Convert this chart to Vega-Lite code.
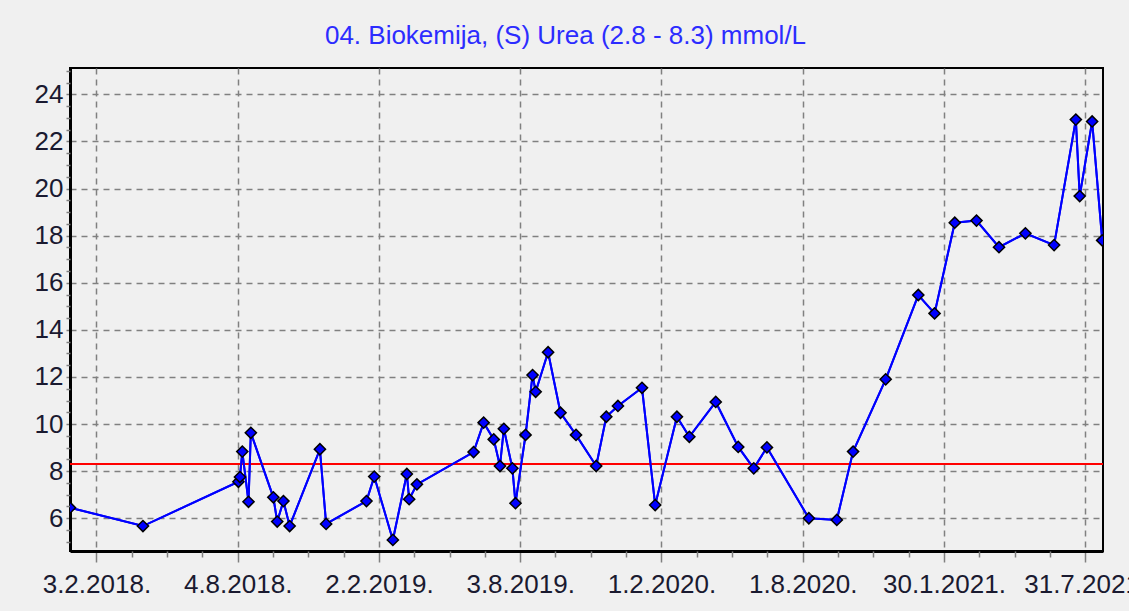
{
  "$schema": "https://vega.github.io/schema/vega-lite/v6.json",
  "width": 1033,
  "height": 483,
  "autosize": {"type": "none"},
  "padding": {"left": 70, "top": 68, "right": 26, "bottom": 60},
  "background": "#f0f0f0",
  "config": {
    "view": {"stroke": "#000000", "strokeWidth": 2, "fill": "#f0f0f0"},
    "font": "Liberation Sans"
  },
  "title": {
    "text": "04. Biokemija, (S) Urea (2.8 - 8.3) mmol/L",
    "font": "Liberation Sans",
    "fontSize": 26,
    "fontWeight": "normal",
    "color": "#2c2cff",
    "anchor": "middle",
    "baseline": "alphabetic",
    "offset": -2,
    "dx": -21
  },
  "resolve": {"axis": {"x": "independent", "y": "independent"}},
  "data": {
    "values": [
      {"date": "2017-12-31", "urea": 6.45},
      {"date": "2018-04-04", "urea": 5.67},
      {"date": "2018-08-05", "urea": 7.55},
      {"date": "2018-08-07", "urea": 7.75},
      {"date": "2018-08-10", "urea": 8.83},
      {"date": "2018-08-18", "urea": 6.70},
      {"date": "2018-08-21", "urea": 9.63},
      {"date": "2018-09-19", "urea": 6.89},
      {"date": "2018-09-24", "urea": 5.86},
      {"date": "2018-10-02", "urea": 6.73},
      {"date": "2018-10-10", "urea": 5.67},
      {"date": "2018-11-18", "urea": 8.93},
      {"date": "2018-11-26", "urea": 5.76},
      {"date": "2019-01-17", "urea": 6.73},
      {"date": "2019-01-27", "urea": 7.77},
      {"date": "2019-02-20", "urea": 5.08},
      {"date": "2019-03-10", "urea": 7.88},
      {"date": "2019-03-13", "urea": 6.81},
      {"date": "2019-03-23", "urea": 7.44},
      {"date": "2019-06-04", "urea": 8.81},
      {"date": "2019-06-17", "urea": 10.06},
      {"date": "2019-06-30", "urea": 9.35},
      {"date": "2019-07-08", "urea": 8.22},
      {"date": "2019-07-13", "urea": 9.80},
      {"date": "2019-07-24", "urea": 8.12},
      {"date": "2019-07-28", "urea": 6.64},
      {"date": "2019-08-10", "urea": 9.54},
      {"date": "2019-08-19", "urea": 12.08},
      {"date": "2019-08-23", "urea": 11.37},
      {"date": "2019-09-08", "urea": 13.05},
      {"date": "2019-09-24", "urea": 10.48},
      {"date": "2019-10-14", "urea": 9.54},
      {"date": "2019-11-09", "urea": 8.22},
      {"date": "2019-11-22", "urea": 10.31},
      {"date": "2019-12-07", "urea": 10.77},
      {"date": "2020-01-07", "urea": 11.54},
      {"date": "2020-01-24", "urea": 6.56},
      {"date": "2020-02-21", "urea": 10.31},
      {"date": "2020-03-08", "urea": 9.46},
      {"date": "2020-04-11", "urea": 10.94},
      {"date": "2020-05-10", "urea": 9.03},
      {"date": "2020-05-30", "urea": 8.12},
      {"date": "2020-06-16", "urea": 9.01},
      {"date": "2020-08-09", "urea": 6.00},
      {"date": "2020-09-14", "urea": 5.93},
      {"date": "2020-10-05", "urea": 8.83},
      {"date": "2020-11-16", "urea": 11.90},
      {"date": "2020-12-28", "urea": 15.48},
      {"date": "2021-01-18", "urea": 14.70},
      {"date": "2021-02-13", "urea": 18.55},
      {"date": "2021-03-13", "urea": 18.64},
      {"date": "2021-04-11", "urea": 17.51},
      {"date": "2021-05-15", "urea": 18.10},
      {"date": "2021-06-21", "urea": 17.60},
      {"date": "2021-07-19", "urea": 22.93},
      {"date": "2021-07-24", "urea": 19.68},
      {"date": "2021-08-09", "urea": 22.85},
      {"date": "2021-08-22", "urea": 17.80}
    ]
  },
  "layer": [
    {
      "mark": {"type": "line", "color": "#0000ff", "strokeWidth": 2, "clip": true},
      "encoding": {
        "x": {
          "field": "date",
          "type": "temporal",
          "scale": {
            "type": "utc",
            "domain": [
              {"year": 2017, "month": 12, "date": 31, "utc": true},
              {"year": 2021, "month": 8, "date": 23, "utc": true}
            ]
          },
          "axis": {
            "orient": "bottom",
            "title": null,
            "values": [1517616000000, 1533340800000, 1549065600000, 1564790400000, 1580515200000, 1596240000000, 1611964800000, 1627689600000],
            "format": "%-d.%-m.%Y.",
            "labelOverlap": false,
            "labelFlush": false,
            "labelFont": "Liberation Sans",
            "labelFontSize": 26,
            "labelColor": "#1a1a30",
            "labelPadding": 9,
            "tickSize": 11,
            "tickColor": "#808080",
            "tickWidth": 1.5,
            "grid": true,
            "gridColor": "#808080",
            "gridWidth": 1.5,
            "gridDash": [6, 5],
            "domainColor": "#000000",
            "domainWidth": 3
          }
        },
        "y": {
          "field": "urea",
          "type": "quantitative",
          "scale": {"domain": [4.61, 25.12], "nice": false, "zero": false},
          "axis": {
            "orient": "left",
            "title": null,
            "values": [6, 8, 10, 12, 14, 16, 18, 20, 22, 24],
            "labelOverlap": false,
            "labelFlush": false,
            "labelFont": "Liberation Sans",
            "labelFontSize": 26,
            "labelColor": "#1a1a30",
            "labelPadding": 3,
            "tickSize": 4,
            "tickColor": "#808080",
            "tickWidth": 1.5,
            "grid": true,
            "gridColor": "#808080",
            "gridWidth": 1.5,
            "gridDash": [6, 5],
            "domainColor": "#000000",
            "domainWidth": 3
          }
        }
      }
    },
    {
      "mark": {"type": "rule", "color": "#ff0000", "strokeWidth": 2},
      "encoding": {"y": {"datum": 8.3, "axis": null}}
    },
    {
      "mark": {"type": "line", "color": "#0000ff", "strokeWidth": 2, "clip": true},
      "encoding": {
        "x": {"field": "date", "type": "temporal", "axis": null},
        "y": {"field": "urea", "type": "quantitative", "axis": null}
      }
    },
    {
      "mark": {"type": "point", "shape": "diamond", "filled": true, "fill": "#0000ff", "stroke": "#000000", "strokeWidth": 1.5, "size": 125, "opacity": 1, "clip": true},
      "encoding": {
        "x": {
          "field": "date",
          "type": "temporal",
          "axis": {
            "orient": "bottom",
            "title": null,
            "values": [1521547200000, 1525478400000, 1529409600000, 1537272000000, 1541203200000, 1545134400000, 1552996800000, 1556928000000, 1560859200000, 1568721600000, 1572652800000, 1576584000000, 1584446400000, 1588377600000, 1592308800000, 1600171200000, 1604102400000, 1608033600000, 1615896000000, 1619827200000, 1623758400000],
            "labels": false,
            "grid": false,
            "domain": false,
            "tickSize": 6,
            "tickColor": "#808080",
            "tickWidth": 1.5
          }
        },
        "y": {
          "field": "urea",
          "type": "quantitative",
          "axis": {
            "orient": "left",
            "title": null,
            "values": [5, 5.5, 6.5, 7, 7.5, 8.5, 9, 9.5, 10.5, 11, 11.5, 12.5, 13, 13.5, 14.5, 15, 15.5, 16.5, 17, 17.5, 18.5, 19, 19.5, 20.5, 21, 21.5, 22.5, 23, 23.5, 24.5, 25],
            "labels": false,
            "grid": false,
            "domain": false,
            "tickSize": 4,
            "tickColor": "#808080",
            "tickWidth": 1.5
          }
        }
      }
    }
  ]
}
